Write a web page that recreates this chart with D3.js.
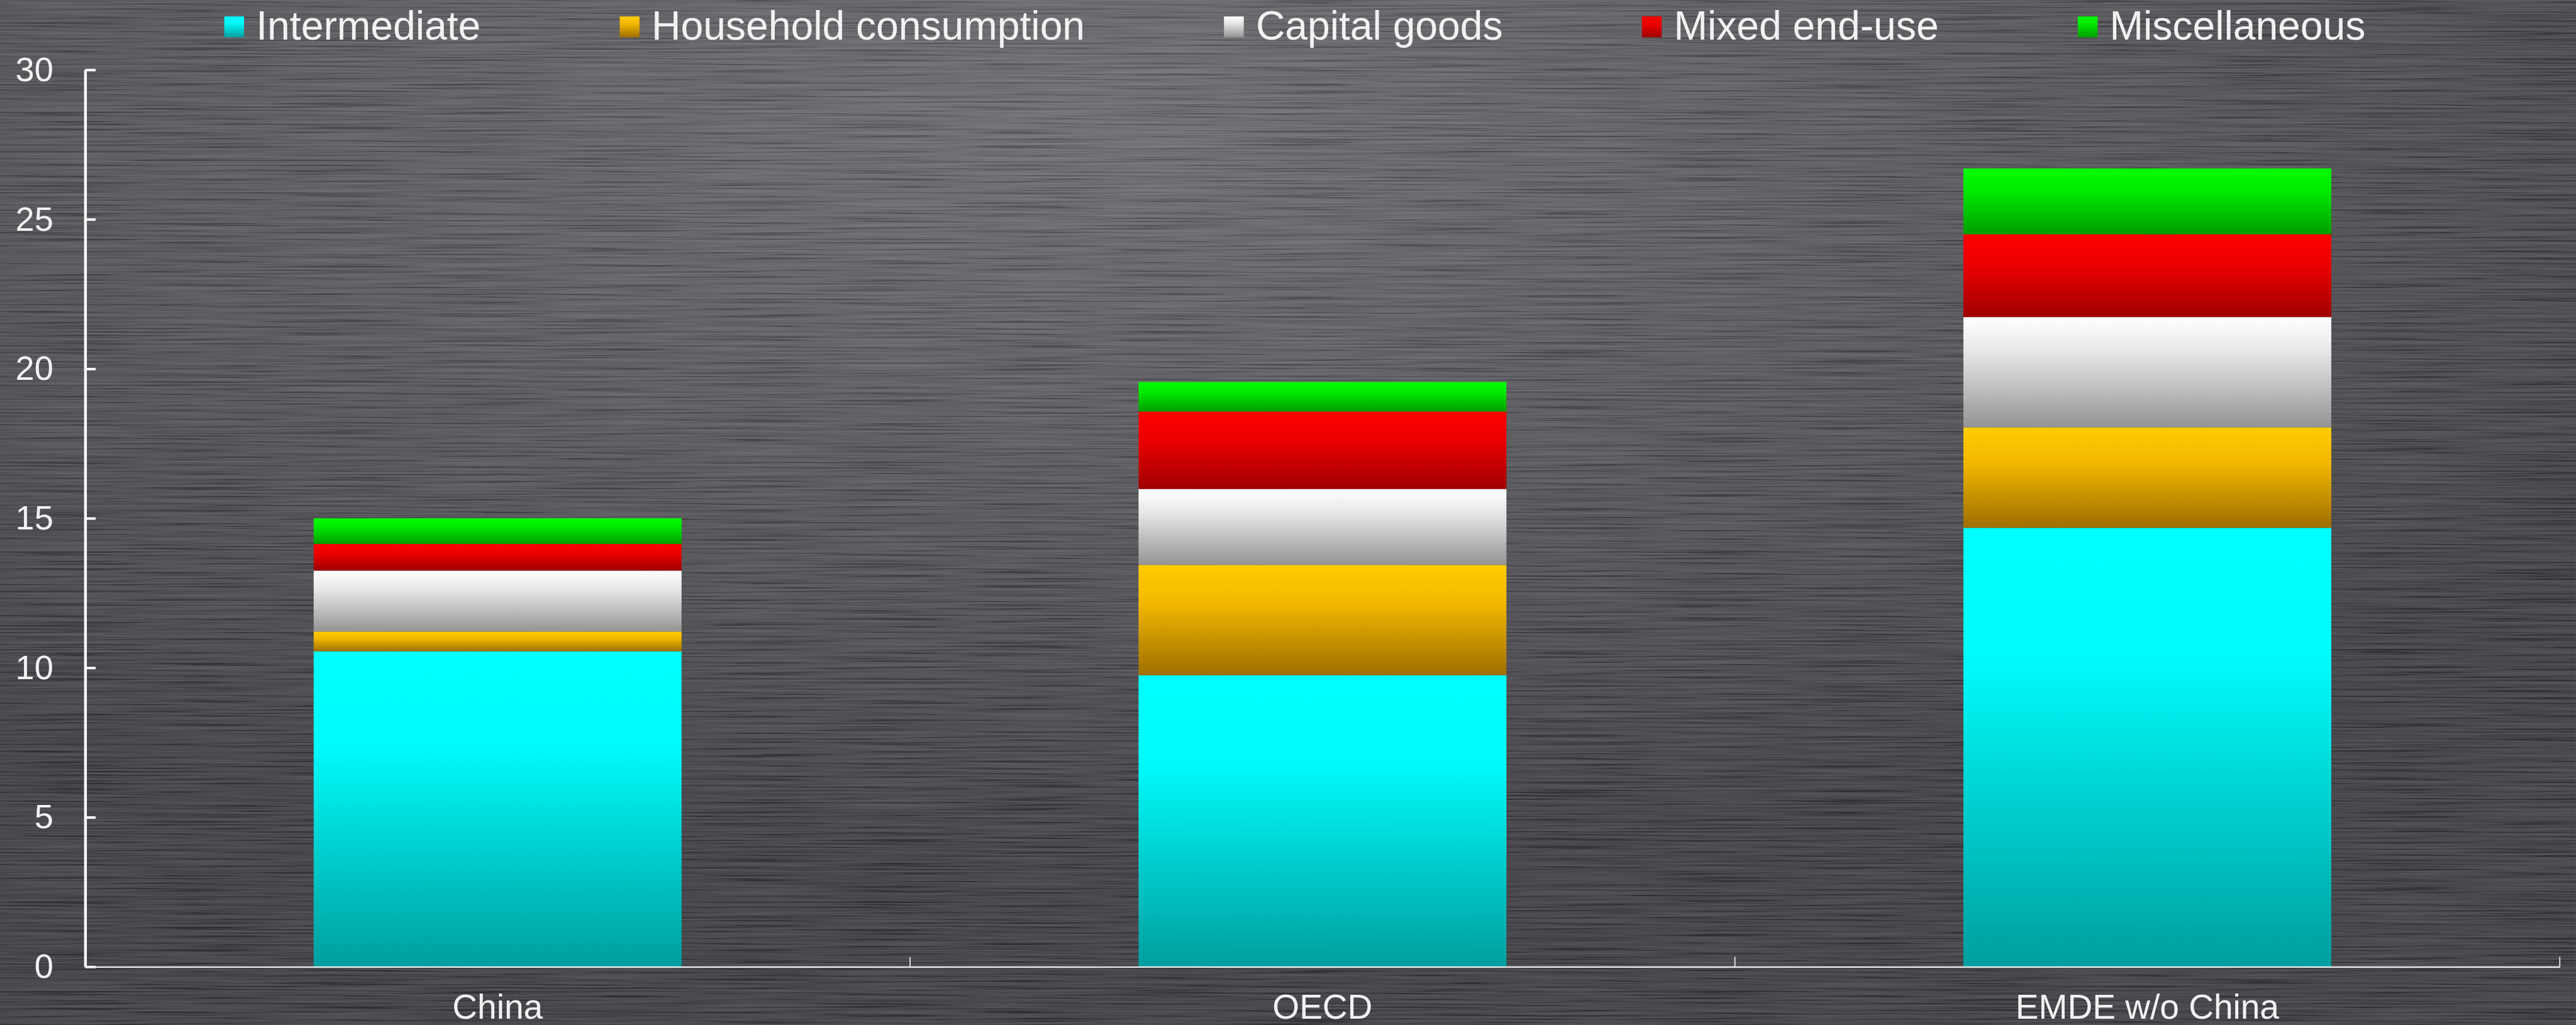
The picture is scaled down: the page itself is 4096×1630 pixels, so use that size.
<!DOCTYPE html>
<html><head><meta charset="utf-8">
<script src="https://cdn.jsdelivr.net/npm/d3@7"></script>
<style>html,body{margin:0;padding:0;background:#48474c;overflow:hidden}</style>
</head><body><svg id="c" width="4096" height="1630"></svg>
<script>
// ---- data ----
const categories = ["China", "OECD", "EMDE w/o China"];
const seriesNames = ["Intermediate", "Household consumption", "Capital goods", "Mixed end-use", "Miscellaneous"];
const intermediate = [10.55, 9.75, 14.68];
const household    = [0.66, 3.69, 3.36];
const capitalGoods = [2.04, 2.54, 3.69];
const mixedEndUse  = [0.89, 2.59, 2.77];
const misc         = [0.86, 0.99, 2.20];
const yTicks = [0, 5, 10, 15, 20, 25, 30];

// ---- styles ----
const gradStops = {
  "Intermediate":          [["0", "#00ffff"], ["0.3", "#00fbfb"], ["1", "#009e9e"]],
  "Household consumption": [["0", "#ffcc00"], ["0.35", "#f2b800"], ["1", "#9e6e00"]],
  "Capital goods":         [["0", "#ffffff"], ["0.3", "#e8e8e8"], ["1", "#949494"]],
  "Mixed end-use":         [["0", "#ff0000"], ["0.4", "#e80000"], ["1", "#9e0000"]],
  "Miscellaneous":         [["0", "#00ff00"], ["0.35", "#00e800"], ["1", "#009e00"]]
};
const FONT = "'Liberation Sans', Arial, sans-serif";
const TXT = "#f2f2f2";

const valuesBySeries = [intermediate, household, capitalGoods, mixedEndUse, misc];
const table = categories.map((c, i) => {
  const row = {cat: c};
  seriesNames.forEach((s, k) => row[s] = valuesBySeries[k][i]);
  return row;
});

const svg = d3.select("#c");
const defs = svg.append("defs");

// background
const bg = defs.append("radialGradient").attr("id", "bgGrad")
  .attr("cx", "0.42").attr("cy", "0.12").attr("r", "0.72");
[["0", "#68676c"], ["0.45", "#535257"], ["1", "#38373d"]].forEach(s =>
  bg.append("stop").attr("offset", s[0]).attr("stop-color", s[1]));
const f = defs.append("filter").attr("id", "brush")
  .attr("x", 0).attr("y", 0).attr("width", "100%").attr("height", "100%")
  .attr("filterUnits", "objectBoundingBox");
f.append("feTurbulence").attr("type", "fractalNoise")
  .attr("baseFrequency", "0.004 0.32").attr("numOctaves", 3).attr("seed", 7).attr("result", "n");
f.append("feColorMatrix").attr("in", "n").attr("type", "matrix")
  .attr("values", "2.2 0 0 0 -0.65  2.2 0 0 0 -0.65  2.2 0 0 0 -0.65  0 0 0 0 0.14");

seriesNames.forEach((s, k) => {
  const g = defs.append("linearGradient").attr("id", "g" + k)
    .attr("x1", 0).attr("y1", 0).attr("x2", 0).attr("y2", 1);
  gradStops[s].forEach(st => g.append("stop").attr("offset", st[0]).attr("stop-color", st[1]));
});

const root = svg.append("g").attr("transform", "scale(0.874)");
const W = 4686, H = 1865;
root.append("rect").attr("width", W).attr("height", H).attr("fill", "url(#bgGrad)");
root.append("rect").attr("width", W).attr("height", H).attr("fill", "#808080").attr("filter", "url(#brush)");

// scales
const x = d3.scaleBand().domain(categories).range([155, 4657]).paddingInner(0).paddingOuter(0);
const y = d3.scaleLinear().domain([0, 30]).range([1759, 127]);
const barW = x.bandwidth() * 0.446;

// bars
const stacked = d3.stack().keys(seriesNames)(table);
const layers = root.append("g").selectAll("g").data(stacked).join("g")
  .attr("data-series", d => d.key);
layers.each(function(layer, k) {
  d3.select(this).selectAll("rect").data(layer).join("rect")
    .attr("x", d => x(d.data.cat) + (x.bandwidth() - barW) / 2)
    .attr("width", barW)
    .attr("y", d => y(d[1]))
    .attr("height", d => y(d[0]) - y(d[1]))
    .attr("fill", "url(#g" + k + ")");
});

// y axis
const yAxis = root.append("g").attr("transform", "translate(155,0)")
  .call(d3.axisLeft(y).tickValues(yTicks).tickSizeInner(-19).tickSizeOuter(0).tickPadding(58));
yAxis.select(".domain").attr("stroke", "#ffffff").attr("stroke-width", 5);
yAxis.selectAll(".tick line").attr("stroke", "#ffffff").attr("stroke-width", 4.5);
yAxis.selectAll(".tick text").attr("fill", TXT).attr("font-family", FONT).attr("font-size", 62);

// x axis
const xAxis = root.append("g").attr("transform", "translate(0,1759)")
  .call(d3.axisBottom(x).tickSize(0).tickPadding(0));
xAxis.select(".domain").attr("stroke", "#eeeeee").attr("stroke-width", 2.5);
xAxis.selectAll(".tick text").attr("fill", TXT).attr("font-family", FONT).attr("font-size", 63)
  .attr("y", 95).attr("dy", 0);
// category separators
root.append("g").selectAll("line").data(categories).join("line")
  .attr("x1", d => x(d) + x.bandwidth()).attr("x2", d => x(d) + x.bandwidth())
  .attr("y1", 1759).attr("y2", 1741)
  .attr("stroke", "#eeeeee").attr("stroke-width", 2);

// legend
const leg = root.append("g");
let lx = 408;
seriesNames.forEach((s, k) => {
  leg.append("rect").attr("x", lx).attr("y", 30).attr("width", 36).attr("height", 38)
    .attr("fill", "url(#g" + k + ")");
  const t = leg.append("text").attr("x", lx + 58).attr("y", 72)
    .attr("fill", TXT).attr("font-family", FONT).attr("font-size", 73.5).text(s);
  lx = lx + 58 + t.node().getComputedTextLength() + 253;
});
</script></body></html>
